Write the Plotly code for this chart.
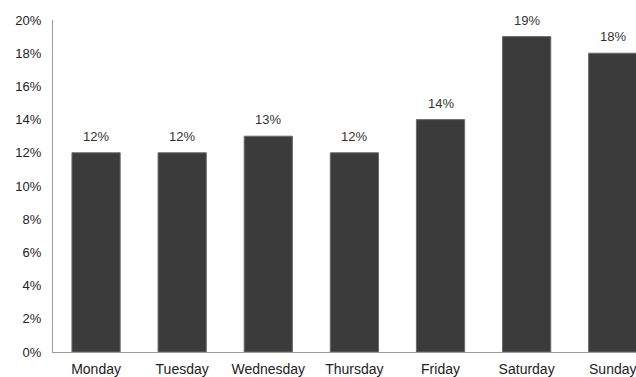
import plotly.graph_objects as go

days = ["Monday", "Tuesday", "Wednesday", "Thursday", "Friday", "Saturday", "Sunday"]
share = [12, 12, 13, 12, 14, 19, 18]
y_ticks = [0, 2, 4, 6, 8, 10, 12, 14, 16, 18, 20]
y_tick_labels = [f"{v}%" for v in y_ticks]

FONT = "Liberation Sans, Arial, sans-serif"

fig = go.Figure()
fig.add_trace(go.Bar(
    x=days, y=share,
    marker=dict(color="#3b3b3b", line=dict(color="#6a6a6a", width=1)),
    width=0.56,
    hoverinfo="skip",
))

for d, v in zip(days, share):
    fig.add_annotation(x=d, y=v, text=f"{v}%", showarrow=False,
                       yanchor="bottom", yshift=7,
                       font=dict(family=FONT, size=13, color="#333333"))

fig.update_layout(
    width=636, height=377,
    margin=dict(l=53, r=0, t=20, b=25, autoexpand=False),
    paper_bgcolor="white", plot_bgcolor="white",
    showlegend=False,
    font=dict(family=FONT, size=12, color="#333333"),
    xaxis=dict(
        range=[-0.5, 6.27], automargin=False,
        showline=True, linecolor="#9a9a9a", linewidth=1,
        showgrid=False, zeroline=False,
        ticks="", ticklabelstandoff=4,
        tickfont=dict(family=FONT, size=14, color="#222222"),
    ),
    yaxis=dict(
        range=[0, 20], automargin=False,
        tickvals=y_ticks, ticktext=y_tick_labels,
        showline=True, linecolor="#9a9a9a", linewidth=1,
        showgrid=False, zeroline=False,
        ticks="", ticklabelstandoff=8,
        tickfont=dict(family=FONT, size=13, color="#222222"),
    ),
)

fig.write_html("out.html")
